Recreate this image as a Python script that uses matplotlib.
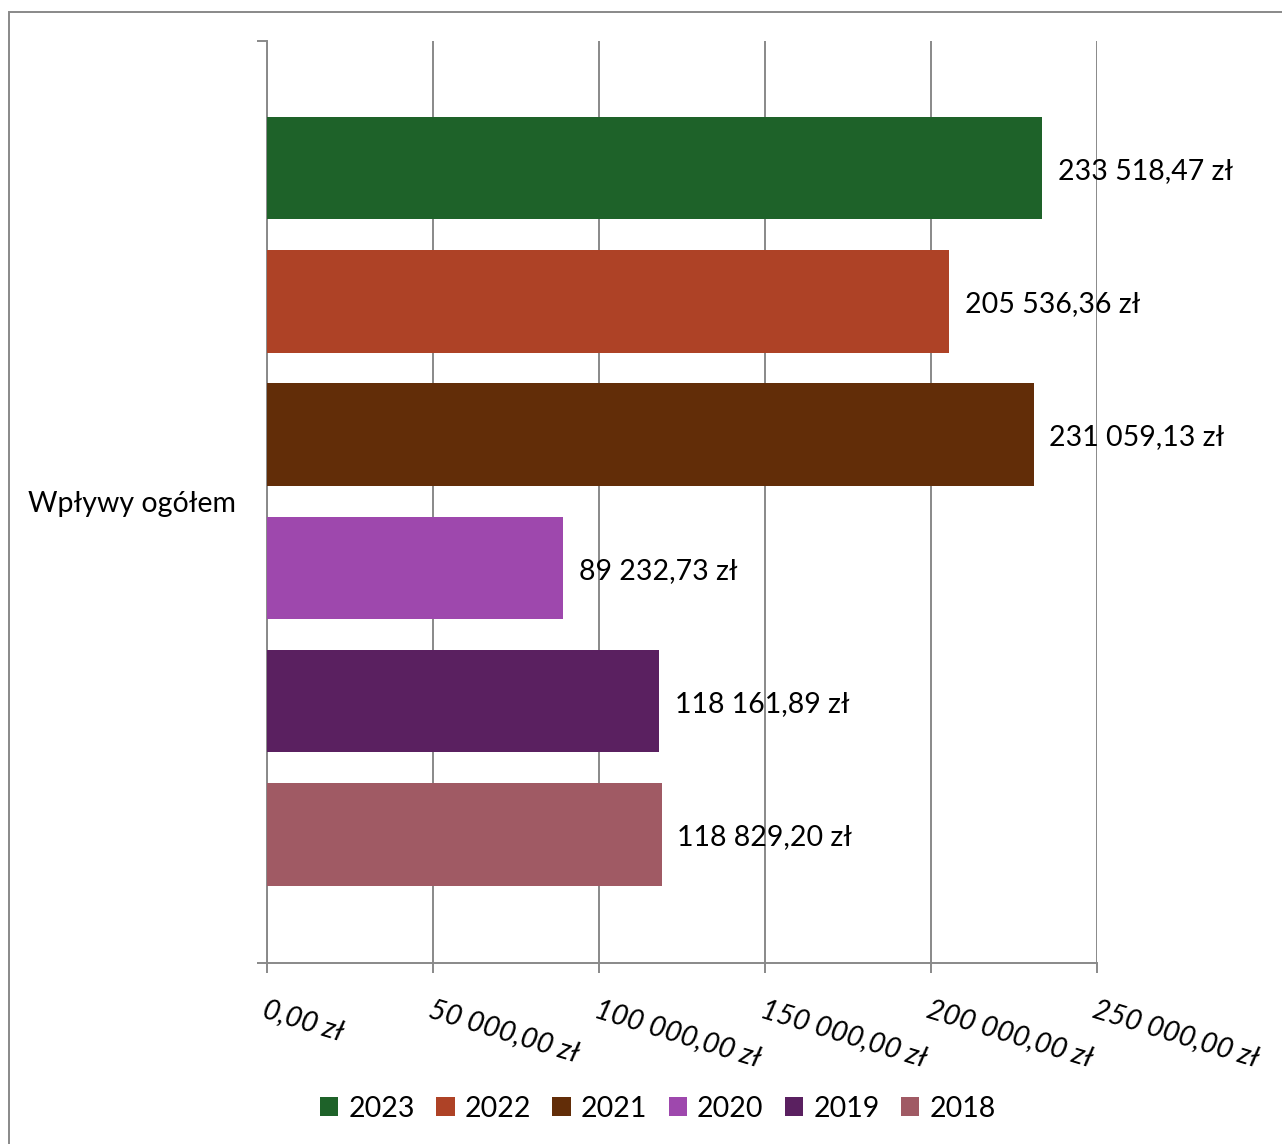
import numpy as np
import matplotlib.pyplot as plt
from matplotlib.patches import Rectangle, Patch

plt.rcParams['font.family'] = ['Lato', 'DejaVu Sans']

# data
category = "Wpływy ogółem"
years = ["2023", "2022", "2021", "2020", "2019", "2018"]
values = [233518.47, 205536.36, 231059.13, 89232.73, 118161.89, 118829.20]
colors = ["#1E6229", "#AE4226", "#622D08", "#9E48AD", "#5A2060", "#A05A64"]
x_ticks = [0, 50000, 100000, 150000, 200000, 250000]


def pl_money(v):
    s = f"{v:,.2f}"
    return s.replace(",", " ").replace(".", ",") + " zł"


fig = plt.figure(figsize=(12.82, 11.44), dpi=100)
ax = fig.add_axes([0.2083, 0.1582, 0.6474, 0.806])

pos = np.arange(len(years))
ax.barh(pos, values, height=0.77, color=colors, zorder=3)
for p, v in zip(pos, values):
    ax.annotate(pl_money(v), (v, p), xytext=(11, -2), textcoords="offset points",
                va="center", ha="left", fontsize=20.5, zorder=4)

ax.set_xlim(0, 250000)
ax.set_ylim(5.966, -0.955)
ax.set_xticks(x_ticks)
ax.set_xticklabels([pl_money(t) for t in x_ticks], rotation=-17, ha="left",
                   va="top", rotation_mode="anchor", fontsize=20.5, style="italic")
ax.tick_params(axis="x", length=7, width=1.4, color="#898989", pad=17)
ax.grid(axis="x", color="#898989", linewidth=1.4, zorder=0)

ax.set_yticks([2.5])
ax.set_yticklabels([category], fontsize=20.5)
ax.tick_params(axis="y", length=0, pad=22)
ax.set_yticks([5.966, -0.955], minor=True)
ax.tick_params(axis="y", which="minor", length=7, width=1.4, color="#898989")

for s in ["top", "right"]:
    ax.spines[s].set_visible(False)
for s in ["left", "bottom"]:
    ax.spines[s].set_color("#898989")
    ax.spines[s].set_linewidth(1.4)

handles = [Patch(facecolor=c, label=y) for c, y in zip(colors, years)]
fig.legend(handles=handles, loc="center", bbox_to_anchor=(0.513, 0.031), ncol=6,
           frameon=False, fontsize=20.5, handlelength=0.65, handleheight=0.65,
           handletextpad=0.35, columnspacing=0.75)

# outer chart frame
fig.patches.append(Rectangle((9 / 1282, -0.1), 1.2, 1 - 12 / 1144 + 0.1,
                             transform=fig.transFigure, fill=False,
                             edgecolor="#898989", linewidth=1.4))

fig.savefig("out.png", dpi=100)
